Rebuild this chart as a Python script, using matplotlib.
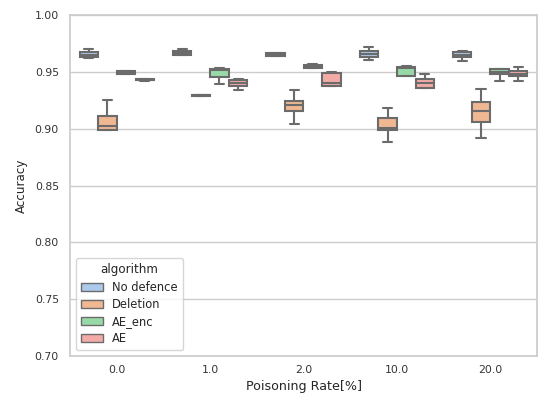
import matplotlib
matplotlib.use("Agg")
import matplotlib.pyplot as plt
from matplotlib.patches import Patch
import seaborn as sns

sns.set_theme(style="whitegrid")
plt.rcParams["font.family"] = ["DejaVu Sans"]

rates = ["0.0", "1.0", "2.0", "10.0", "20.0"]
algorithms = ["No defence", "Deletion", "AE_enc", "AE"]

# per algorithm, per poisoning rate: (whislo, q1, median, q3, whishi)
no_defence = [
    (0.9620, 0.9628, 0.9648, 0.9672, 0.9704),
    (0.9645, 0.9651, 0.9667, 0.9683, 0.9698),
    (0.9635, 0.9639, 0.9650, 0.9663, 0.9666),
    (0.9607, 0.9628, 0.9655, 0.9680, 0.9716),
    (0.9598, 0.9628, 0.9650, 0.9672, 0.9686),
]
deletion = [
    (0.8989, 0.8989, 0.9024, 0.9112, 0.9250),
    (0.9288, 0.9290, 0.9294, 0.9297, 0.9299),
    (0.9041, 0.9156, 0.9208, 0.9246, 0.9343),
    (0.8883, 0.8989, 0.9005, 0.9097, 0.9185),
    (0.8918, 0.9059, 0.9153, 0.9232, 0.9352),
]
ae_enc = [
    (0.9478, 0.9485, 0.9498, 0.9505, 0.9508),
    (0.9390, 0.9455, 0.9520, 0.9528, 0.9531),
    (0.9530, 0.9534, 0.9550, 0.9563, 0.9565),
    (0.9460, 0.9461, 0.9530, 0.9545, 0.9548),
    (0.9422, 0.9478, 0.9499, 0.9525, 0.9528),
]
ae = [
    (0.9420, 0.9424, 0.9430, 0.9435, 0.9440),
    (0.9340, 0.9376, 0.9405, 0.9431, 0.9435),
    (0.9376, 0.9376, 0.9399, 0.9487, 0.9496),
    (0.9360, 0.9360, 0.9400, 0.9434, 0.9478),
    (0.9420, 0.9461, 0.9484, 0.9510, 0.9540),
]
series = [no_defence, deletion, ae_enc, ae]

palette = [sns.desaturate(c, 0.75) for c in sns.color_palette("pastel", 4)]
line_gray = "#6b6b6b"

fig = plt.figure(figsize=(5.39, 3.96), dpi=100)
ax = fig.add_axes([70 / 539, 1 - 356 / 396, 467 / 539, 341 / 396])

n_hue = len(algorithms)
box_w = 0.8 / n_hue
offsets = [(-0.4 + box_w / 2) + i * box_w for i in range(n_hue)]

for hi, (name, data) in enumerate(zip(algorithms, series)):
    stats = []
    for lo, q1, med, q3, hi_w in data:
        stats.append(dict(whislo=lo, q1=q1, med=med, q3=q3, whishi=hi_w, fliers=[]))
    positions = [gi + offsets[hi] for gi in range(len(rates))]
    bp = ax.bxp(stats, positions=positions, widths=box_w * 0.98, patch_artist=True,
                showfliers=False, manage_ticks=False,
                boxprops=dict(facecolor=palette[hi], edgecolor=line_gray, linewidth=1.5),
                medianprops=dict(color=line_gray, linewidth=1.5),
                whiskerprops=dict(color=line_gray, linewidth=1.5),
                capprops=dict(color=line_gray, linewidth=1.5))
    for b in bp["boxes"]:
        b.set_zorder(2)

ax.set_xlim(-0.5, len(rates) - 0.5)
ax.set_xticks(range(len(rates)))
ax.set_xticklabels(rates)
yt = [0.70, 0.75, 0.80, 0.85, 0.90, 0.95, 1.00]
ax.set_ylim(0.70, 1.00)
ax.set_yticks(yt)
ax.set_yticklabels([f"{v:.2f}" for v in yt])
ax.tick_params(axis="both", labelsize=7.8, colors="#333333", length=0)
ax.tick_params(axis="x", pad=6.8)
ax.tick_params(axis="y", pad=8)
ax.xaxis.grid(False)
ax.set_xlabel("Poisoning Rate[%]", fontsize=9.1, color="#262626", labelpad=3)
ax.set_ylabel("Accuracy", fontsize=8.6, color="#262626", labelpad=5)

handles = [Patch(facecolor=palette[i], edgecolor=line_gray, linewidth=1.0, label=a)
           for i, a in enumerate(algorithms)]
leg = ax.legend(handles=handles, title="algorithm", loc="lower left",
                fontsize=8.3, title_fontsize=8.6, frameon=True,
                labelspacing=0.36, borderpad=0.45, handlelength=1.9)

fig.savefig("out.png", dpi=100)
